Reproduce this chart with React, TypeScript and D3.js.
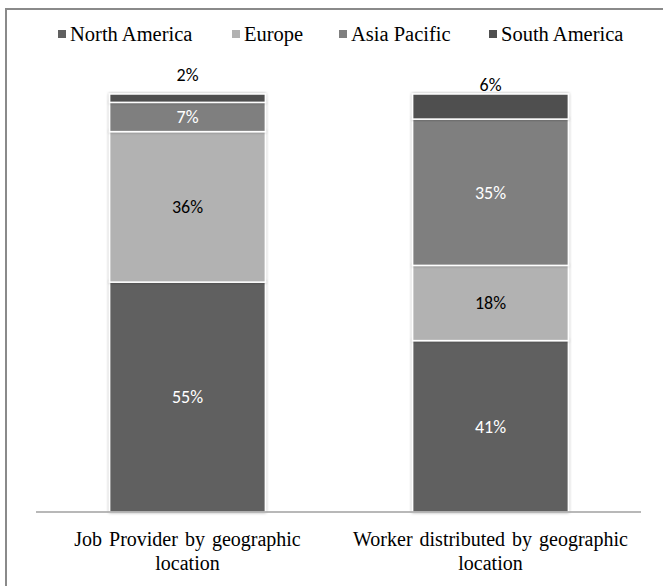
import React from "react";
import * as d3 from "d3";

const categories = ["Job Provider by geographic location", "Worker distributed by geographic location"];
const categoryLines = [["Job Provider by geographic", "location"], ["Worker distributed by geographic", "location"]];
const seriesNames = ["North America", "Europe", "Asia Pacific", "South America"];
const northAmerica = [55, 41];
const europe = [36, 18];
const asiaPacific = [7, 35];
const southAmerica = [2, 6];
const seriesValues = [northAmerica, europe, asiaPacific, southAmerica];
const seriesColors = ["#606060", "#b2b2b2", "#7f7f7f", "#4f4f4f"];
const labelColors = ["#ffffff", "#000000", "#ffffff", "#000000"];

const W = 663, H = 586;
const baseY = 512, topY = 94;
const SERIF = "'Liberation Serif', 'Times New Roman', Times, serif";
const SANS = "Carlito, Lato, 'Open Sans', sans-serif";

export default function App() {
  const x = d3.scaleBand<string>().domain(categories).range([36, 642]).paddingInner(0.486).paddingOuter(0.243);
  const y = d3.scaleLinear().domain([0, 100]).range([baseY, topY]);
  const table = categories.map((c, i) => {
    const row: any = { cat: c };
    seriesNames.forEach((s, j) => (row[s] = seriesValues[j][i]));
    return row;
  });
  const stacked = d3.stack<any>().keys(seriesNames)(table);
  const bw = x.bandwidth();

  const legendX = [58, 232, 339, 489];

  return (
    <svg width={W} height={H} style={{ position: "absolute", left: 0, top: 0, background: "#fff" }}>
      <defs>
        <filter id="sh" x="-10%" y="-10%" width="120%" height="120%">
          <feDropShadow dx="0" dy="0" stdDeviation="1.6" floodColor="#000" floodOpacity="0.35" />
        </filter>
      </defs>
      <rect x={0} y={0} width={W} height={H} fill="#fff" />
      <line x1={6} x2={6} y1={8} y2={H} stroke="#8a8a8a" strokeWidth={2} />
      <line x1={5} x2={W} y1={9} y2={9} stroke="#8a8a8a" strokeWidth={2} />

      {/* legend */}
      {seriesNames.map((s, j) => (
        <g key={s}>
          <rect x={legendX[j]} y={30} width={8} height={8} fill={seriesColors[j]} />
          <text x={legendX[j] + 12} y={41} style={{ fontFamily: SERIF, fontSize: 20.5 }} fill="#000">{s}</text>
        </g>
      ))}

      {/* bars */}
      {stacked.map((layer, j) => (
        <g key={layer.key} filter="url(#sh)">
          {layer.map((d, i) => (
            <rect key={i} x={x(categories[i])!} y={y(d[1])} width={bw} height={y(d[0]) - y(d[1])}
              fill={seriesColors[j]} stroke="#fff" strokeWidth={1.5} />
          ))}
        </g>
      ))}

      {/* labels */}
      {stacked.map((layer, j) => layer.map((d, i) => {
        const cx = x(categories[i])! + bw / 2;
        const v = seriesValues[j][i];
        let cy = (y(d[0]) + y(d[1])) / 2;
        if (j === seriesNames.length - 1) cy = y(d[1]) - (i === 0 ? 19 : 9);
        return (
          <text key={`${j}-${i}`} x={cx} y={cy} dy="0.35em" textAnchor="middle" style={{ fontFamily: SANS, fontSize: 18 }}
            fill={labelColors[j]}>{v}%</text>
        );
      }))}

      {/* axis */}
      <line x1={36} x2={641} y1={baseY} y2={baseY} stroke="#a0a0a0" strokeWidth={1.5} />
      {categories.map((c, i) => (
        <text key={c} textAnchor="middle" style={{ fontFamily: SERIF, fontSize: 20, wordSpacing: 2 }} fill="#000">
          {categoryLines[i].map((ln, k) => (
            <tspan key={k} x={x(c)! + bw / 2} y={546 + k * 24}>{ln}</tspan>
          ))}
        </text>
      ))}
    </svg>
  );
}
